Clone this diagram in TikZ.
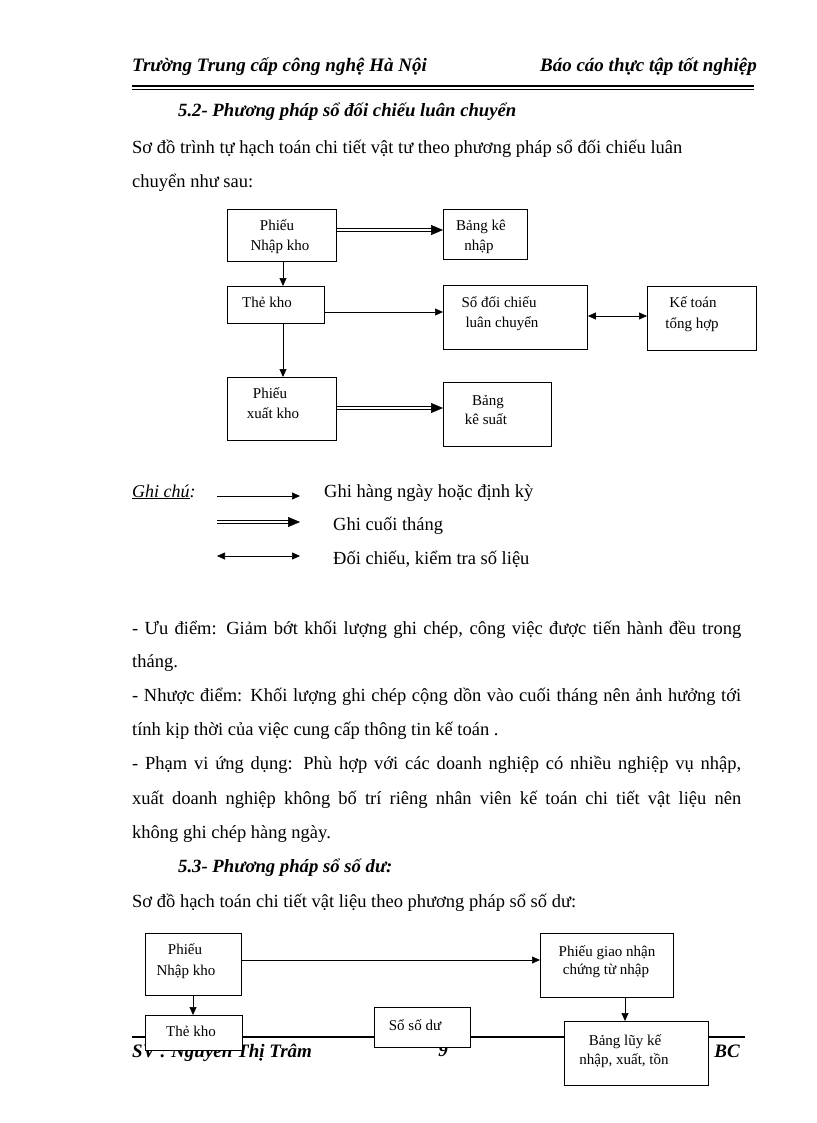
\documentclass[tikz,border=0pt]{standalone}
\usepackage{fontspec}
\setmainfont{Liberation Serif}
\usetikzlibrary{arrows.meta}
\begin{document}
\begin{tikzpicture}[x=1pt,y=-1pt,
  box/.style={draw, line width=0.9pt, fill=white, inner sep=0pt, anchor=north west},
  btxt/.style={anchor=base, inner sep=0pt, font=\fontsize{15}{18}\selectfont},
  body/.style={anchor=base west, inner sep=0pt, font=\fontsize{18.5}{21}\selectfont},
  head/.style={anchor=base west, inner sep=0pt, font=\fontsize{19}{22}\selectfont\bfseries\itshape},
  sarrow/.style={line width=0.7pt, -{Triangle[length=8pt,width=7pt]}},
  barrow/.style={line width=0.7pt, {Triangle[length=8pt,width=7pt]}-{Triangle[length=8pt,width=7pt]}},
  dshaft/.style={double, double distance=2pt, line width=0.6pt},
  dtip/.style={line width=0.5pt, -{Triangle[length=12pt,width=10pt]}}
]
\useasboundingbox (0,0) rectangle (816,1123);
\fill[white] (0,0) rectangle (816,1123);

% header
\node[head] (h1) at (132,72) {Trường Trung cấp công nghệ Hà Nội};
\node[head, anchor=base east] (h2) at (757,72) {Báo cáo thực tập tốt nghiệp};
\draw[line width=2pt] (132,86) -- (754,86);
\draw[line width=0.7pt] (132,89.5) -- (754,89.5);

\node[head, font=\fontsize{18.7}{22}\selectfont\bfseries\itshape] (s52) at (178,117) {5.2- Phương pháp sổ đối chiếu luân chuyển};
\node[body] (p1) at (132,154) {Sơ đồ trình tự hạch toán chi tiết vật tư theo phương pháp sổ đối chiếu luân};
\node[body] (p2) at (132,188) {chuyển như sau:};

% top diagram
\node[box, minimum width=109, minimum height=52] (pnk) at (227,209) {};
\node[box, minimum width=84, minimum height=50] (bkn) at (443,209) {};
\node[box, minimum width=97, minimum height=37] (tk) at (227,286) {};
\node[box, minimum width=144, minimum height=64] (sdc) at (443,285) {};
\node[box, minimum width=109, minimum height=64] (ktth) at (647,286) {};
\node[box, minimum width=109, minimum height=63] (pxk) at (227,377) {};
\node[box, minimum width=108, minimum height=64] (bks) at (443,382) {};

\node[btxt] (t1a) at (277,230) {Phiếu};
\node[btxt] (t1b) at (280,251) {Nhập kho};
\node[btxt] (t2a) at (481,231) {Bảng kê};
\node[btxt] (t2b) at (479,251) {nhập};
\node[btxt] (t3) at (267,307) {Thẻ kho};
\node[btxt] (t4a) at (499,307) {Sổ đối chiếu};
\node[btxt] (t4b) at (502,327) {luân chuyển};
\node[btxt] (t5a) at (693,307) {Kế toán};
\node[btxt] (t5b) at (692,328) {tổng hợp};
\node[btxt] (t6a) at (270,398) {Phiếu};
\node[btxt] (t6b) at (273,418) {xuất kho};
\node[btxt] (t7a) at (488,405) {Bảng};
\node[btxt] (t7b) at (486,424) {kê suất};

\draw[dshaft, shorten >=10pt] (pnk.east|-0,230) -- (bkn.west|-0,230);
\draw[dtip] ([xshift=-12pt]bkn.west|-0,230) -- (bkn.west|-0,230);
\draw[sarrow] (pnk.south-|283,0) -- (tk.north-|283,0);
\draw[sarrow] (tk.east|-0,312) -- (sdc.west|-0,312);
\draw[sarrow] (tk.south-|283,0) -- (pxk.north-|283,0);
\draw[dshaft, shorten >=10pt] (pxk.east|-0,408) -- (bks.west|-0,408);
\draw[dtip] ([xshift=-12pt]bks.west|-0,408) -- (bks.west|-0,408);
\draw[barrow] (sdc.east|-0,316) -- (ktth.west|-0,316);

% legend
\node[body, font=\fontsize{18}{20}\selectfont\itshape] (gc) at (132,497) {\underline{Ghi chú}:};
\coordinate (l1a) at (217,496); \coordinate (l1b) at (300,496);
\coordinate (l2a) at (217,522); \coordinate (l2b) at (300,522);
\coordinate (l3a) at (217,556); \coordinate (l3b) at (300,556);
\draw[sarrow] (l1a) -- (l1b);
\draw[dshaft, shorten >=10pt] (l2a) -- (l2b);
\draw[dtip] ([xshift=-12pt]l2b) -- (l2b);
\draw[barrow] (l3a) -- (l3b);
\node[body] (g1) at (324,497) {Ghi hàng ngày hoặc định kỳ};
\node[body] (g2) at (333,530) {Ghi cuối tháng};
\node[body] (g3) at (333,564) {Đối chiếu, kiểm tra số liệu};

% paragraphs
\node[body] (q1) at (132,634) {\makebox[609pt][s]{- Ưu điểm: Giảm bớt khối lượng ghi chép, công việc được tiến hành đều trong}};
\node[body] (q2) at (132,667) {tháng.};
\node[body] (q3) at (132,701) {\makebox[609pt][s]{- Nhược điểm: Khối lượng ghi chép cộng dồn vào cuối tháng nên ảnh hưởng tới}};
\node[body] (q4) at (132,735) {tính kịp thời của việc cung cấp thông tin kế toán .};
\node[body] (q5) at (132,769) {\makebox[609pt][s]{- Phạm vi ứng dụng: Phù hợp với các doanh nghiệp có nhiều nghiệp vụ nhập,}};
\node[body] (q6) at (132,804) {\makebox[609pt][s]{xuất doanh nghiệp không bố trí riêng nhân viên kế toán chi tiết vật liệu nên}};
\node[body] (q7) at (132,838) {không ghi chép hàng ngày.};
\node[head, font=\fontsize{18.7}{22}\selectfont\bfseries\itshape] (s53) at (178,872) {5.3- Phương pháp sổ số dư:};
\node[body] (q8) at (132,907) {Sơ đồ hạch toán chi tiết vật liệu theo phương pháp sổ số dư:};

% footer (partly covered)
\draw[line width=2pt] (132,1037) -- (745,1037);
\node[head] (f1) at (132,1057) {SV : Nguyễn Thị Trâm};
\node[head, anchor=base] (f2) at (443,1056) {9};
\node[head, anchor=base east] (f3) at (740,1057) {BC};

% bottom diagram
\node[box, minimum width=96, minimum height=62] (bnk) at (145,933) {};
\node[box, minimum width=133, minimum height=64] (pgn) at (540,933) {};
\node[box, minimum width=97, minimum height=35] (btk) at (145,1015) {};
\node[box, minimum width=96, minimum height=40] (ssd) at (374,1007) {};
\node[box, minimum width=144, minimum height=64] (blk) at (564,1021) {};

\node[btxt] (u1a) at (185,954) {Phiếu};
\node[btxt] (u1b) at (186,975) {Nhập kho};
\node[btxt] (u2a) at (607,956) {Phiếu giao nhận};
\node[btxt] (u2b) at (606,974) {chứng từ nhập};
\node[btxt] (u3) at (191,1036) {Thẻ kho};
\node[btxt] (u4) at (415,1030) {Sổ số dư};
\node[btxt] (u5a) at (625,1045) {Bảng lũy kế};
\node[btxt] (u5b) at (624,1064) {nhập, xuất, tồn};

\draw[sarrow] (bnk.east|-0,960) -- (pgn.west|-0,960);
\draw[sarrow] (bnk.south-|193,0) -- (btk.north-|193,0);
\draw[sarrow] (pgn.south-|625,0) -- (blk.north-|625,0);
\end{tikzpicture}
\end{document}
